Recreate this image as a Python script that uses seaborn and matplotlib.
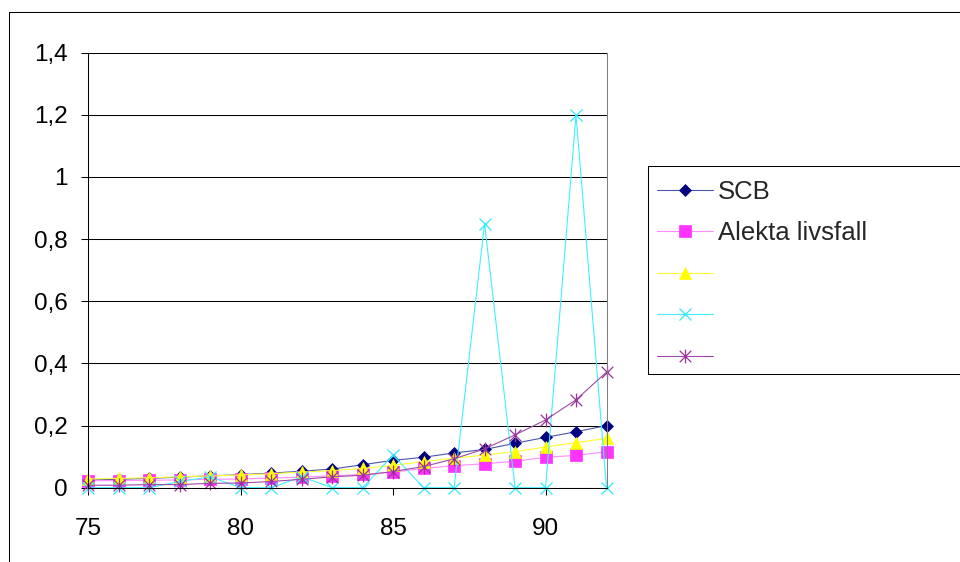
import matplotlib
matplotlib.use("Agg")
import matplotlib.pyplot as plt
from matplotlib.path import Path
from matplotlib.lines import Line2D
from matplotlib.patches import Rectangle
import pandas as pd
import seaborn as sns

# Ages on the x axis
ages = list(range(75, 93))

# Yearly rates per series
scb = [0.025, 0.027, 0.030, 0.034, 0.038, 0.042, 0.047, 0.053, 0.060, 0.074,
       0.088, 0.098, 0.112, 0.123, 0.143, 0.162, 0.180, 0.200]
alekta = [0.022, 0.023, 0.024, 0.025, 0.027, 0.028, 0.031, 0.034, 0.038, 0.043,
          0.050, 0.062, 0.071, 0.077, 0.085, 0.098, 0.104, 0.116]
series3 = [0.028, 0.030, 0.032, 0.035, 0.038, 0.041, 0.045, 0.050, 0.055, 0.062,
           0.072, 0.084, 0.095, 0.105, 0.116, 0.131, 0.145, 0.159]
series4 = [0.0, 0.0, 0.0, 0.020, 0.035, 0.0, 0.0, 0.035, 0.0, 0.0,
           0.105, 0.0, 0.0, 0.850, 0.0, 0.0, 1.200, 0.0]
series5 = [0.008, 0.008, 0.010, 0.010, 0.014, 0.015, 0.020, 0.027, 0.035, 0.040,
           0.052, 0.068, 0.093, 0.125, 0.170, 0.218, 0.283, 0.372]

legend_labels = ["SCB", "Alekta livsfall", "", "", ""]
x_ticks = [75, 80, 85, 90]
x_tick_labels = ["75", "80", "85", "90"]
y_ticks = [0, 0.2, 0.4, 0.6, 0.8, 1.0, 1.2, 1.4]
y_tick_labels = ["0", "0,2", "0,4", "0,6", "0,8", "1", "1,2", "1,4"]

sns.set_theme(style="white")
plt.rcParams["font.family"] = ["Liberation Sans", "DejaVu Sans"]

W, H = 960, 562
fig = plt.figure(figsize=(W / 100, H / 100), dpi=100)
fig.patch.set_facecolor("white")

left_px, right_px, top_px, bottom_px = 88.3, 606.5, 52.7, 487.7
ax = fig.add_axes([left_px / W, 1 - bottom_px / H,
                   (right_px - left_px) / W, (bottom_px - top_px) / H])
ax.set_facecolor("white")

# Excel-style asterisk: an X with a vertical bar through it
star = Path([(-1, -1), (1, 1), (-1, 1), (1, -1), (0, -1.2), (0, 1.2)],
            [Path.MOVETO, Path.LINETO, Path.MOVETO, Path.LINETO,
             Path.MOVETO, Path.LINETO])

styles = [
    dict(values=scb, line="#4a56ac", mc="#000080", marker="D", ms=6.6, mew=0.5, fill=True),
    dict(values=alekta, line="#ff8cff", mc="#ff33ff", marker="s", ms=8.2, mew=0.5, fill=True),
    dict(values=series3, line="#ffff30", mc="#ffff00", marker="^", ms=9.2, mew=0.5, fill=True),
    dict(values=series4, line="#40f0ff", mc="#30e8ff", marker="x", ms=8.5, mew=0.9, fill=False),
    dict(values=series5, line="#a04aa8", mc="#993399", marker=star, ms=10, mew=0.9, fill=False),
]

for st in styles:
    df = pd.DataFrame({"age": ages, "rate": st["values"]})
    sns.lineplot(data=df, x="age", y="rate", ax=ax, color=st["line"],
                 linewidth=0.8, marker=st["marker"], markersize=st["ms"],
                 markerfacecolor=st["mc"] if st["fill"] else "none",
                 markeredgecolor=st["mc"], markeredgewidth=st["mew"],
                 estimator=None, sort=False, clip_on=False, legend=False)

ax.set_xlim(75, 92)
ax.set_ylim(0, 1.4)
ax.set_xticks(x_ticks)
ax.set_xticklabels(x_tick_labels)
ax.set_yticks(y_ticks)
ax.set_yticklabels(y_tick_labels)
ax.set_xlabel("")
ax.set_ylabel("")

ax.yaxis.grid(True, color="#000000", linewidth=0.75)
ax.xaxis.grid(False)
ax.set_axisbelow(True)

for side in ["left", "bottom"]:
    ax.spines[side].set_color("#000000")
    ax.spines[side].set_linewidth(0.75)
ax.spines["right"].set_color("#808080")
ax.spines["right"].set_linewidth(0.75)
ax.spines["top"].set_visible(False)

ax.tick_params(axis="both", which="both", direction="out", length=5,
               width=0.75, color="#000000", labelsize=17.5, labelcolor="#000000")
ax.tick_params(axis="x", pad=17)
ax.tick_params(axis="y", pad=10)
ax.tick_params(axis="both", left=True, bottom=True)

# Legend with a frame running off the right edge
handles = ax.lines[:5]
leg = fig.legend(handles, legend_labels, loc="center left",
                 bbox_to_anchor=(657.3 / W, 1 - 274.9 / H),
                 bbox_transform=fig.transFigure, frameon=False,
                 fontsize=18.5, borderpad=0, borderaxespad=0,
                 handlelength=2.15, handletextpad=0.22, labelspacing=0.68)
fig.add_artist(Rectangle((648.3 / W, 1 - 374.3 / H), (W + 20 - 648.3) / W,
                         (374.3 - 165.7) / H, transform=fig.transFigure,
                         fill=False, edgecolor="#000000", linewidth=0.75))

# Chart area border
fig.add_artist(Line2D([9 / W, 9 / W], [-0.05, 1 - 12 / H], transform=fig.transFigure,
                      color="#000000", linewidth=0.75))
fig.add_artist(Line2D([9 / W, 1.05], [1 - 12 / H, 1 - 12 / H], transform=fig.transFigure,
                      color="#000000", linewidth=0.75))

fig.savefig("out.png", dpi=100)
